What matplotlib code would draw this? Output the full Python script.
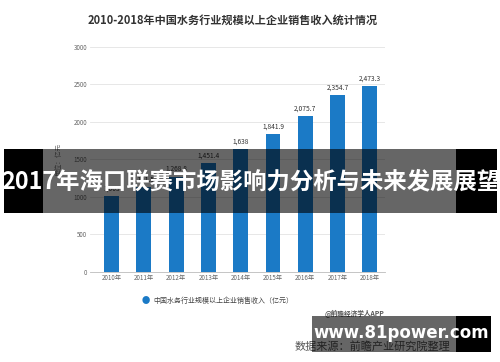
import matplotlib
matplotlib.use('Agg')
import matplotlib.pyplot as plt
from matplotlib.patches import Rectangle

plt.rcParams['font.family'] = ['Noto Sans CJK SC', 'DejaVu Sans']

years = ['2010年', '2011年', '2012年', '2013年', '2014年', '2015年', '2016年', '2017年', '2018年']
revenue = [1003.0, 1131.5, 1268.8, 1451.4, 1638.0, 1841.9, 2075.7, 2354.7, 2473.3]
labels = ['1,003', '1,131.5', '1,268.8', '1,451.4', '1,638', '1,841.9', '2,075.7', '2,354.7', '2,473.3']
yticks = [0, 500, 1000, 1500, 2000, 2500, 3000]

bar_color = '#1b7ac6'

fig = plt.figure(figsize=(5, 3.62), dpi=100)
ax = fig.add_axes([0.18, 0.2495, 0.59, 0.6215])

x = list(range(len(years)))
ax.bar(x, revenue, width=0.46, color=bar_color, zorder=2)
for xi, v, s in zip(x, revenue, labels):
    ax.text(xi, v + 45, s, ha='center', va='bottom', fontsize=4.8, color='#333333')

ax.set_xlim(-0.67, 8.47)
ax.set_ylim(0, 3000)
ax.set_yticks(yticks)
ax.set_yticklabels([str(t) for t in yticks])
ax.set_xticks(x)
ax.set_xticklabels(years)
ax.tick_params(axis='both', length=0, labelsize=4.5, colors='#666666', pad=2)
ax.grid(axis='y', color='#e3e3e3', linewidth=0.6, zorder=0)
for s in ['top', 'right', 'left']:
    ax.spines[s].set_visible(False)
ax.spines['bottom'].set_color('#bbbbbb')
ax.spines['bottom'].set_linewidth(0.6)
ax.set_ylabel('单位：亿元', fontsize=4.8, color='#777777', labelpad=8)

fig.text(0.466, 0.945, '2010-2018年中国水务行业规模以上企业销售收入统计情况',
         ha='center', va='center', fontsize=8, fontweight='bold', color='#333333')

# legend
fig.text(0.292, 1 - 300.7 / 362, '●', ha='center', va='center', fontsize=6, color=bar_color)
fig.text(0.306, 1 - 300.7 / 362, '中国水务行业规模以上企业销售收入（亿元）',
         ha='left', va='center', fontsize=5, color='#444444')

fig.text(0.65, 1 - 314 / 362, '@前瞻经济学人APP', ha='left', va='center',
         fontsize=4.8, color='#555555', fontweight='bold')
fig.text(0.59, 1 - 346 / 362, '数据来源：前瞻产业研究院整理', ha='left', va='center',
         fontsize=8, color='#555555')

# banner overlay
fig.patches.append(Rectangle((0.008, 0.4116), 0.078, 0.1768, transform=fig.transFigure,
                             facecolor='black', edgecolor='none', zorder=5))
fig.patches.append(Rectangle((0.086, 0.4116), 0.826, 0.1768, transform=fig.transFigure,
                             facecolor='black', alpha=0.6, edgecolor='none', zorder=5))
fig.patches.append(Rectangle((0.912, 0.4116), 0.082, 0.1768, transform=fig.transFigure,
                             facecolor='black', edgecolor='none', zorder=5))
fig.text(0.501, 0.5, '2017年海口联赛市场影响力分析与未来发展展望', ha='center', va='center',
         fontsize=16.8, fontweight='bold', color='white', zorder=6)

# bottom site box
fig.patches.append(Rectangle((0.624, 0.0276), 0.288, 0.0994, transform=fig.transFigure,
                             facecolor='black', alpha=0.6, edgecolor='none', zorder=5))
fig.patches.append(Rectangle((0.912, 0.0276), 0.07, 0.0994, transform=fig.transFigure,
                             facecolor='black', edgecolor='none', zorder=5))
fig.text(0.802, 0.08, 'www.81power.com', ha='center', va='center',
         fontsize=12, fontweight='bold', color='white', family='DejaVu Sans', zorder=6)

fig.savefig('out.png', dpi=100, facecolor='white')
